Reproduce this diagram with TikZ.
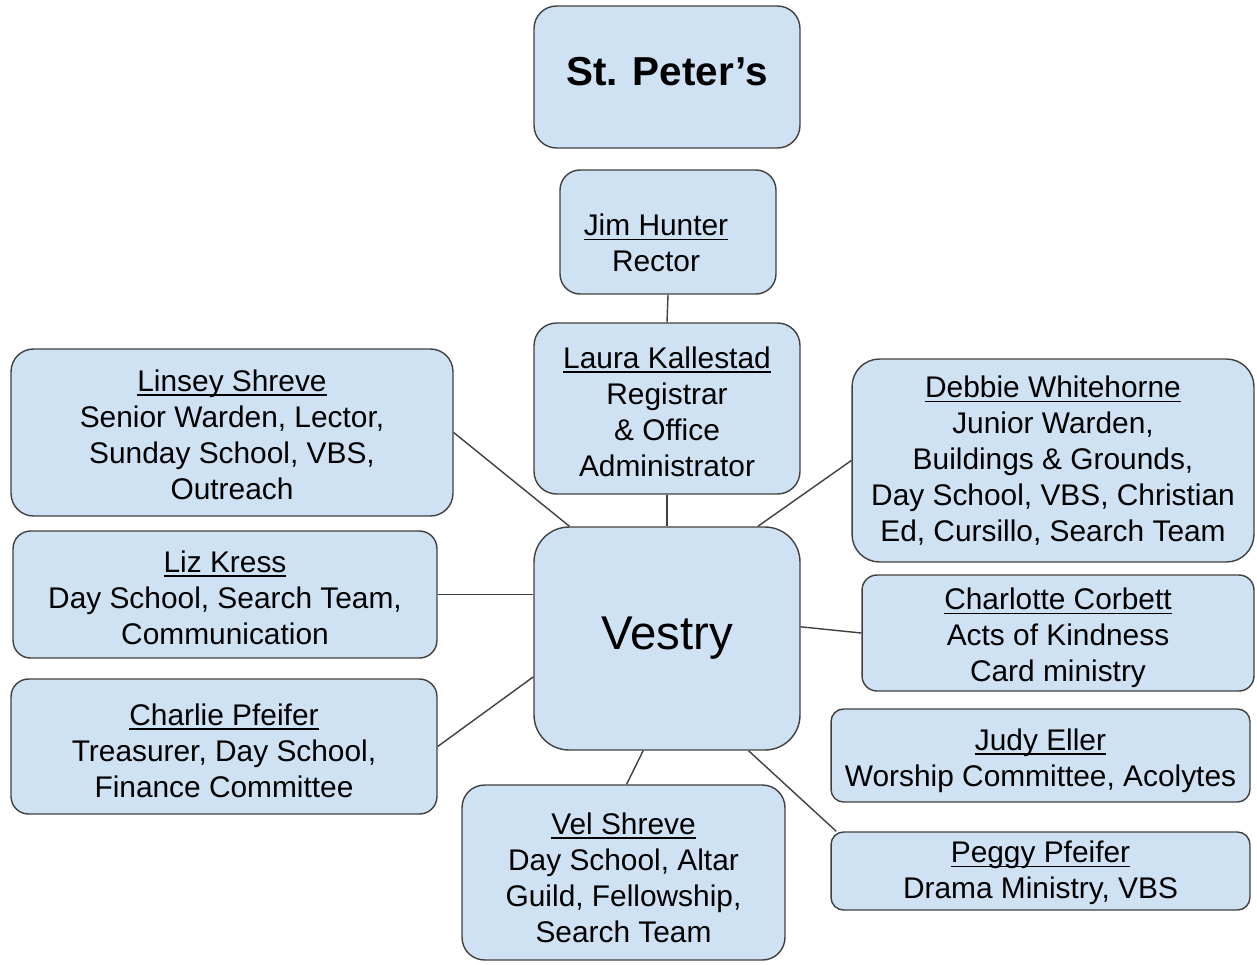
\documentclass[tikz,border=0pt]{standalone}
\usepackage{fontspec}
\setmainfont{Liberation Sans}
\usepackage{tikz}
\usetikzlibrary{calc}

\definecolor{boxblue}{HTML}{CFE2F3}
\definecolor{boxline}{HTML}{404040}

% underlined name, with a strut that sets the text a little lower in its box
\newcommand{\uname}[2][16pt]{\rule{0pt}{#1}\setbox0\hbox{#2}\rlap{\rule[-2.6pt]{\wd0}{0.8pt}}\box0}

\tikzset{
  member/.style={draw=boxline, fill=boxblue, line width=0.8pt, rounded corners=0.45cm,
    align=center, inner sep=0pt, font=\fontsize{17}{20.5}\selectfont},
  link/.style={draw=boxline, line width=0.8pt}
}

\begin{document}
\begin{tikzpicture}[x=0.02cm, y=-0.02cm]
\useasboundingbox (0,0) rectangle (1257,964);

\node[member, minimum width=5.32cm, minimum height=2.84cm, text depth=6pt, font=\fontsize{23}{27}\selectfont\bfseries] (peters) at (667,77) {St. Peter’s};
\node[member, minimum width=4.32cm, minimum height=2.48cm, rounded corners=0.4cm] (jim) at (668,232) {\uname[25pt]{Jim Hunter}\hspace*{0.48cm}\\Rector\hspace*{0.48cm}};
\node[member, minimum width=5.32cm, minimum height=3.42cm] (laura) at (667,408.5) {\uname[15.8pt]{Laura Kallestad}\\Registrar\\\& Office\\Administrator};
\node[member, minimum width=5.32cm, minimum height=4.46cm, rounded corners=0.7cm, font=\fontsize{27}{32}\selectfont] (vestry) at (667,638.5) {Vestry};

\node[member, minimum width=8.84cm, minimum height=3.34cm] (linsey) at (232,432.5) {\uname[14.7pt]{Linsey Shreve}\\Senior Warden, Lector,\\Sunday School, VBS,\\Outreach};
\node[member, minimum width=8.48cm, minimum height=2.54cm, rounded corners=0.35cm] (liz) at (225,594.5) {\uname[15.8pt]{Liz Kress}\\Day School, Search Team,\\Communication};
\node[member, minimum width=8.52cm, minimum height=2.70cm, rounded corners=0.35cm] (charlie) at (224,746.5) {\uname[17pt]{Charlie Pfeifer}\\Treasurer, Day School,\\Finance Committee};
\node[member, minimum width=6.46cm, minimum height=3.50cm] (vel) at (623.5,872.5) {\uname[18pt]{Vel Shreve}\\Day School, Altar\\Guild, Fellowship,\\Search Team};

\node[member, minimum width=8.04cm, minimum height=4.06cm, rounded corners=0.55cm] (debbie) at (1053,460.5) {\uname[10pt]{Debbie Whitehorne}\\Junior Warden,\\Buildings \& Grounds,\\Day School, VBS, Christian\\Ed, Cursillo, Search Team};
\node[member, minimum width=7.84cm, minimum height=2.32cm, rounded corners=0.3cm] (charlotte) at (1058,633) {\uname[18pt]{Charlotte Corbett}\\Acts of Kindness\\Card ministry};
\node[member, minimum width=8.38cm, minimum height=1.86cm, rounded corners=0.25cm] (judy) at (1040.5,755.5) {\uname[18pt]{Judy Eller}\\Worship Committee, Acolytes};
\node[member, minimum width=8.38cm, minimum height=1.56cm, rounded corners=0.25cm] (peggy) at (1040.5,871) {\uname[14.7pt]{Peggy Pfeifer}\\Drama Ministry, VBS};

\draw[link] (jim.south) -- (laura.north);
\draw[link] (laura.south) -- (vestry.north);
\draw[link] (linsey.east) -- (vestry.131);
\draw[link] (liz.east) -- (liz.east -| vestry.west);
\draw[link] (charlie.east) -- (vestry.196);
\draw[link] (debbie.west) -- (vestry.51);
\draw[link] (charlotte.west) -- (vestry.5);
\draw[link] (vel.88) -- (vestry.258);
\draw[link] (peggy.169) -- (vestry.306);
\end{tikzpicture}
\end{document}
